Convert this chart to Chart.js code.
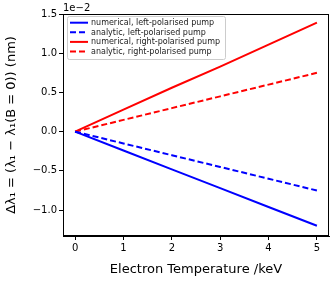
<!DOCTYPE html>
<html>
<head>
<meta charset="utf-8">
<script src="https://cdn.jsdelivr.net/npm/chart.js@4/dist/chart.umd.min.js"></script>
<style>
  html, body { margin: 0; padding: 0; background: #fff; }
  canvas { display: block; }
</style>
</head>
<body>
<canvas id="c" width="334" height="281"></canvas>
<script>
// data (y values in units of 1e-2 nm)
const temps = [0, 1, 2, 3, 4, 5];
const numLeft = [0, -0.24, -0.48, -0.72, -0.96, -1.20];
const anaLeft = [0, -0.15, -0.30, -0.45, -0.60, -0.75];
const numRight = [0, 0.28, 0.56, 0.83, 1.11, 1.39];
const anaRight = [0, 0.15, 0.30, 0.45, 0.60, 0.75];

const xTicks = [0, 1, 2, 3, 4, 5];
const yTicks = [-1.0, -0.5, 0.0, 0.5, 1.0, 1.5];

const labels = [
  'numerical, left-polarised pump',
  'analytic, left-polarised pump',
  'numerical, right-polarised pump',
  'analytic, right-polarised pump'
];
const colors = ['#0000ff', '#0000ff', '#ff0000', '#ff0000'];
const dashed = [false, true, false, true];
const series = [numLeft, anaLeft, numRight, anaRight];

const FONT = "'DejaVu Sans', sans-serif";

function toPoints(ys) {
  return temps.map((t, i) => ({ x: t, y: ys[i] }));
}

// frame, offset text and legend box
const extras = {
  id: 'extras',
  afterDraw(chart) {
    const { ctx, chartArea: a } = chart;
    ctx.save();
    ctx.strokeStyle = '#000';
    ctx.lineWidth = 1;
    ctx.strokeRect(a.left + 0.5, a.top + 0.5, a.right - a.left - 1, a.bottom - a.top - 1);

    ctx.fillStyle = '#000';
    ctx.font = '10px ' + FONT;
    ctx.textAlign = 'left';
    ctx.textBaseline = 'bottom';
    ctx.fillText('1e\u22122', a.left, a.top - 1);

    // legend
    const lx = a.left + 4, ly = a.top + 2, lw = 158, lh = 43;
    ctx.beginPath();
    ctx.roundRect(lx + 0.5, ly + 0.5, lw, lh, 2);
    ctx.fillStyle = 'rgba(255,255,255,0.8)';
    ctx.fill();
    ctx.strokeStyle = '#cccccc';
    ctx.stroke();
    ctx.font = '8px ' + FONT;
    ctx.textBaseline = 'middle';
    for (let i = 0; i < labels.length; i++) {
      const y = ly + 6.7 + i * 9.6;
      ctx.beginPath();
      ctx.strokeStyle = colors[i];
      ctx.lineWidth = 2;
      ctx.setLineDash(dashed[i] ? [6, 3] : []);
      ctx.moveTo(lx + 3, y);
      ctx.lineTo(lx + 21, y);
      ctx.stroke();
      ctx.setLineDash([]);
      ctx.fillStyle = '#222';
      ctx.fillText(labels[i], lx + 24, y + 0.5);
    }
    ctx.restore();
  }
};

new Chart(document.getElementById('c'), {
  type: 'line',
  data: {
    datasets: series.map((s, i) => ({
      label: labels[i],
      data: toPoints(s),
      borderColor: colors[i],
      borderWidth: 2,
      borderDash: dashed[i] ? [6, 3] : [],
      pointRadius: 0,
      tension: 0,
      fill: false
    }))
  },
  options: {
    responsive: false,
    animation: false,
    layout: { padding: { top: 14, right: 5, left: 0, bottom: 0 } },
    plugins: {
      legend: { display: false },
      tooltip: { enabled: false }
    },
    scales: {
      x: {
        type: 'linear',
        min: -0.25,
        max: 5.25,
        afterBuildTicks: s => { s.ticks = xTicks.map(v => ({ value: v })); },
        afterFit: s => { s.height = 45; },
        grid: { drawOnChartArea: false, drawTicks: true, tickLength: 4, color: '#000' },
        border: { display: true, color: '#000' },
        ticks: {
          color: '#000',
          font: { family: FONT, size: 10 },
          padding: 2,
          maxRotation: 0,
          callback: v => String(v)
        },
        title: {
          display: true,
          text: 'Electron Temperature /keV',
          color: '#000',
          font: { family: FONT, size: 13 },
          padding: { top: 0, bottom: 4 }
        }
      },
      y: {
        type: 'linear',
        min: -1.33,
        max: 1.5,
        afterBuildTicks: s => { s.ticks = yTicks.map(v => ({ value: v })); },
        afterFit: s => { s.width = 63; },
        grid: { drawOnChartArea: false, drawTicks: true, tickLength: 4, color: '#000' },
        border: { display: true, color: '#000' },
        ticks: {
          color: '#000',
          font: { family: FONT, size: 10 },
          padding: 2,
          callback: v => v.toFixed(1).replace('-', '\u2212')
        },
        title: {
          display: true,
          text: '\u0394\u03bb\u2081 = (\u03bb\u2081 \u2212 \u03bb\u2081(B = 0)) (nm)',
          color: '#000',
          font: { family: FONT, size: 13 },
          padding: { top: 4, bottom: 0 }
        }
      }
    }
  },
  plugins: [extras]
});
</script>
</body>
</html>
